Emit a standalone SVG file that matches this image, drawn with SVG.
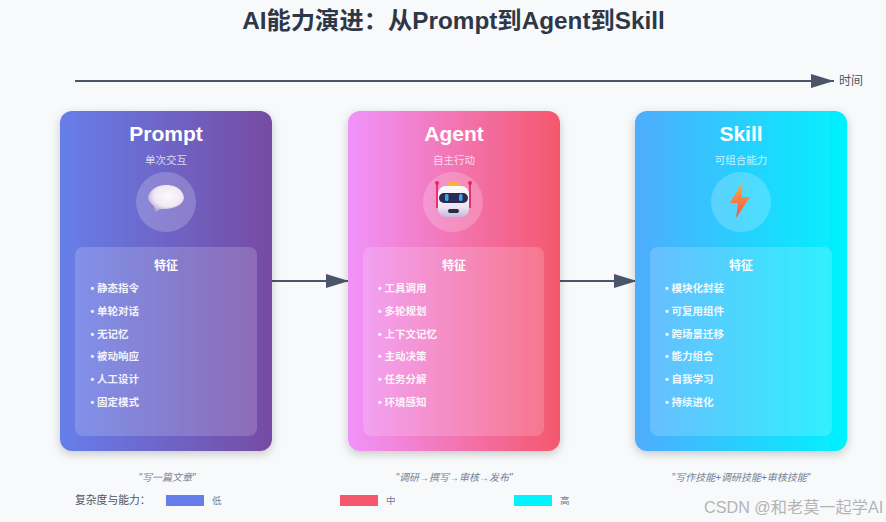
<svg xmlns="http://www.w3.org/2000/svg" width="886" height="522" viewBox="0 0 886 522">
<style>
text{font-family:"Liberation Sans","Noto Sans CJK SC",sans-serif}
.name{font-size:21px;font-weight:700;fill:#fff;text-anchor:middle}
.sub{font-size:10.5px;fill:#fff;fill-opacity:.75;text-anchor:middle}
.head{font-size:12px;font-weight:700;fill:#fff;text-anchor:middle}
.it{font-size:10.5px;font-weight:700;fill:#fff;fill-opacity:.92}
.panel{fill:#fff;fill-opacity:.17}
.halo{fill:#fff;fill-opacity:.2}
.card{filter:url(#sh)}
.q{font-size:10px;font-style:italic;fill:#718096;text-anchor:middle}
.leg{font-size:9.5px;fill:#718096}
.ln{stroke:#4a5568;stroke-width:2.2;fill:none}
</style>
<defs>
<linearGradient id="g1"><stop offset="0" stop-color="#667eea"/><stop offset="1" stop-color="#764ba2"/></linearGradient>
<linearGradient id="g2"><stop offset="0" stop-color="#f093fb"/><stop offset="1" stop-color="#f5576c"/></linearGradient>
<linearGradient id="g3"><stop offset="0" stop-color="#4facfe"/><stop offset="1" stop-color="#00f2fe"/></linearGradient>
<radialGradient id="bub" cx=".55" cy=".4" r=".65"><stop offset="0" stop-color="#fbf8fd"/><stop offset=".6" stop-color="#f0e9f5"/><stop offset="1" stop-color="#b09bc9"/></radialGradient>
<linearGradient id="bolt" x1="0" y1="0" x2="0" y2="1"><stop offset="0" stop-color="#fdb03e"/><stop offset="1" stop-color="#ef4f4f"/></linearGradient>
<linearGradient id="robo" x1="0" y1="0" x2="0" y2="1"><stop offset="0" stop-color="#fdfbfd"/><stop offset=".7" stop-color="#ece4ee"/><stop offset="1" stop-color="#c9b4e0"/></linearGradient>
<filter id="sh" x="-20%" y="-20%" width="140%" height="140%"><feDropShadow dx="0" dy="3" stdDeviation="5" flood-color="#000" flood-opacity=".2"/></filter>
<marker id="arr" markerUnits="userSpaceOnUse" markerWidth="24" markerHeight="16" refX="23" refY="7" orient="auto"><path d="M0 0L23 7L0 14Z" fill="#4a5568"/></marker>
</defs>
<rect width="886" height="522" fill="#f8f9fa"/>
<text x="453.500" y="29" font-size="24.300" font-weight="700" fill="#2d3748" text-anchor="middle" id="title">AI能力演进：从Prompt到Agent到Skill</text>

<g id="connectors">
<path class="ln" d="M75 81H834" marker-end="url(#arr)"/>
<path class="ln" d="M272 281H349" marker-end="url(#arr)"/>
<path class="ln" d="M560 281H637" marker-end="url(#arr)"/>
</g>
<text x="839" y="85" font-size="12" fill="#4a5568" id="time-label">时间</text>

<g id="prompt">
<rect class="card" x="60" y="111" width="212" height="340" rx="12" fill="url(#g1)"/>
<text class="name" x="166" y="141">Prompt</text>
<text class="sub" x="166" y="164">单次交互</text>
<circle class="halo" cx="166" cy="202" r="30"/>
<path d="M166 185C180 185 184 194 184 198C184 204 174 210 160 209L156 212C155 212 155 210 154 206C150 203 148 200 148 197C150 190 156 185 166 185Z" fill="url(#bub)"/>
<rect class="panel" x="75" y="247" width="182" height="189" rx="8"/>
<text class="head" x="166" y="270">特征</text>
<text class="it" x="90.500" y="292">• 静态指令</text>
<text class="it" x="90.500" y="315">• 单轮对话</text>
<text class="it" x="90.500" y="338">• 无记忆</text>
<text class="it" x="90.500" y="360">• 被动响应</text>
<text class="it" x="90.500" y="383">• 人工设计</text>
<text class="it" x="90.500" y="406">• 固定模式</text>
</g>

<g id="agent">
<rect class="card" x="348" y="111" width="212" height="340" rx="12" fill="url(#g2)"/>
<text class="name" x="454" y="141">Agent</text>
<text class="sub" x="454" y="164">自主行动</text>
<circle class="halo" cx="453" cy="202" r="30"/>
<path d="M437 183V208M470 183V208" stroke="#ec2f6e" stroke-width="2" fill="none"/>
<circle cx="437" cy="183" r="2" fill="#e8265f"/><circle cx="470" cy="183" r="2" fill="#e8265f"/>
<ellipse cx="453.500" cy="184" rx="6.500" ry="2" fill="#f8b62d"/>
<rect x="438" y="186" width="31" height="31" rx="8" fill="url(#robo)"/>
<rect x="439" y="193" width="29" height="10" rx="5" fill="#2b2a55"/>
<rect x="445" y="194" width="3.500" height="7" rx="1.500" fill="#35a7ea"/><rect x="459" y="194" width="3.500" height="7" rx="1.500" fill="#35a7ea"/>
<rect x="448" y="209" width="11" height="4" rx="2" fill="#2b2a45"/>
<rect class="panel" x="363" y="247" width="181" height="189" rx="8"/>
<text class="head" x="454" y="270">特征</text>
<text class="it" x="378" y="292">• 工具调用</text>
<text class="it" x="378" y="315">• 多轮规划</text>
<text class="it" x="378" y="338">• 上下文记忆</text>
<text class="it" x="378" y="360">• 主动决策</text>
<text class="it" x="378" y="383">• 任务分解</text>
<text class="it" x="378" y="406">• 环境感知</text>
</g>

<g id="skill">
<rect class="card" x="635" y="111" width="212" height="340" rx="12" fill="url(#g3)"/>
<text class="name" x="741" y="141">Skill</text>
<text class="sub" x="741" y="164">可组合能力</text>
<circle class="halo" cx="741" cy="202" r="30"/>
<path d="M742.500 182L730 203H738L736 218L750 197H741.500Z" fill="url(#bolt)"/>
<rect class="panel" x="650" y="247" width="182" height="189" rx="8"/>
<text class="head" x="741" y="270">特征</text>
<text class="it" x="665" y="292">• 模块化封装</text>
<text class="it" x="665" y="315">• 可复用组件</text>
<text class="it" x="665" y="338">• 跨场景迁移</text>
<text class="it" x="665" y="360">• 能力组合</text>
<text class="it" x="665" y="383">• 自我学习</text>
<text class="it" x="665" y="406">• 持续进化</text>
</g>

<g id="examples">
<text class="q" x="167" y="481">"写一篇文章"</text>
<text class="q" x="454" y="481">"调研→撰写→审核→发布"</text>
<text class="q" x="741" y="481">"写作技能+调研技能+审核技能"</text>
</g>

<g id="legend">
<text x="75" y="504" font-size="10.800" fill="#4a5568">复杂度与能力：</text>
<rect x="166" y="495" width="38" height="11" fill="#667eea"/>
<text class="leg" x="212" y="504">低</text>
<rect x="340" y="495" width="38" height="11" fill="#f5576c"/>
<text class="leg" x="386" y="504">中</text>
<rect x="514" y="495" width="38" height="11" fill="#00f2fe"/>
<text class="leg" x="560" y="504">高</text>
</g>
<text x="704" y="513" font-size="16.200" fill="#b4b4b4" id="watermark">CSDN @和老莫一起学AI</text>
</svg>
